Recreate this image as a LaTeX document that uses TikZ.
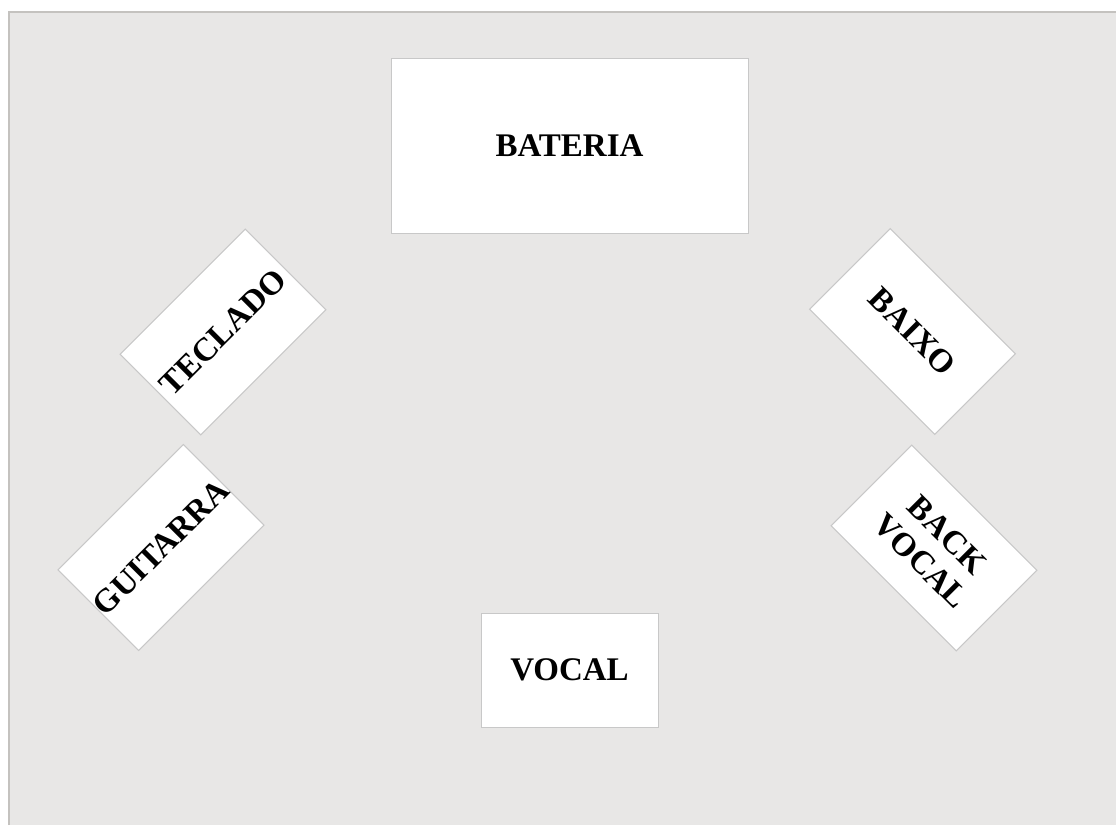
\documentclass[tikz,border=0pt]{standalone}
\usepackage{fontspec}
\setmainfont{Liberation Serif}
\definecolor{stagebg}{HTML}{E8E7E6}
\definecolor{stageedge}{HTML}{C4C2BF}
\definecolor{boxedge}{HTML}{C8C8C8}
\begin{document}
\begin{tikzpicture}[x=1pt,y=-1pt,
  spot/.style={draw=boxedge, line width=1pt, fill=white, inner sep=0pt,
    font=\fontsize{33}{37}\selectfont\bfseries, align=center},
  wide/.style={spot, minimum width=357pt, minimum height=175pt},
  small/.style={spot, minimum width=177pt, minimum height=114pt}]
\useasboundingbox (0,0) rectangle (1116,825);
\fill[white] (0,0) rectangle (1116,825);
\fill[stagebg] (9,12) rectangle (1116,825);
\draw[stageedge, line width=1.2pt] (9,825) -- (9,12) -- (1116,12);
\node[wide] (bateria) at (569.5,145.5) {BATERIA};
\node[small] (vocal) at (569.5,670) {VOCAL};
\node[small, rotate=45] (teclado) at (223,332) {TECLADO};
\node[small, rotate=45] (guitarra) at (161,547.5) {GUITARRA};
\node[small, rotate=-45] (baixo) at (912.5,331.5) {BAIXO};
\node[small, rotate=-45] (backvocal) at (934,548) {BACK\\VOCAL};
\end{tikzpicture}
\end{document}
